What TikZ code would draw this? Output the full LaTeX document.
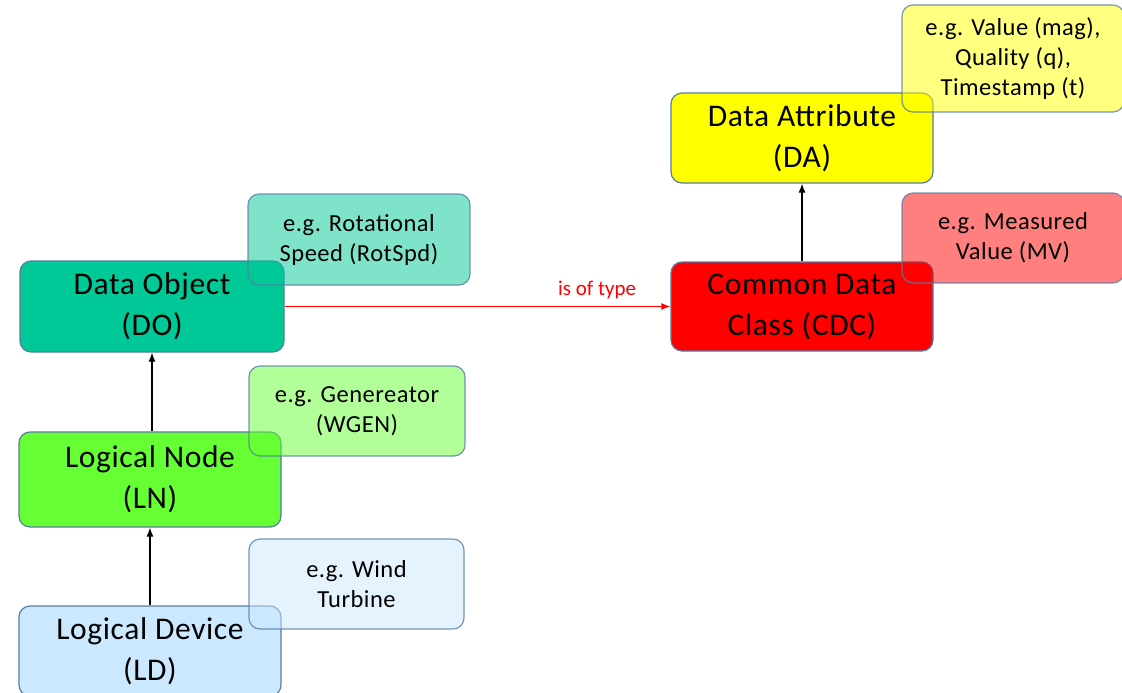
\documentclass[tikz,border=0pt]{standalone}
\usepackage{fontspec}
\setmainfont{Carlito}
\newfontfamily\widefont[LetterSpace=2]{Carlito}
\usetikzlibrary{arrows.meta}
\definecolor{cDO}{RGB}{0,200,150}
\definecolor{cLN}{RGB}{102,255,51}
\definecolor{cLD}{RGB}{204,232,255}
\definecolor{cDA}{RGB}{255,255,0}
\definecolor{cCDC}{RGB}{255,0,0}
\definecolor{bord}{RGB}{85,125,165}
\tikzset{
  mainbox/.style={draw=bord, line width=1.2pt, rounded corners=11pt, align=center, inner sep=0pt,
    font=\widefont\fontsize{31.5}{41}\selectfont},
  notebox/.style={draw=bord, draw opacity=0.8, line width=1.2pt, rounded corners=11pt, align=center, inner sep=0pt,
    fill opacity=0.5, text opacity=1, font=\widefont\fontsize{24.5}{30}\selectfont},
  conn/.style={-{Latex[length=9pt,width=7pt]}, line width=1.3pt},
}
\begin{document}
\begin{tikzpicture}[x=1pt,y=1pt]
\useasboundingbox (0,0) rectangle (1122,-693);
% main boxes
\node[mainbox, fill=cDO, minimum width=264pt, minimum height=91pt] (DO) at (152,-306.5) {Data Object\\(DO)};
\node[mainbox, fill=cLN, minimum width=262pt, minimum height=95pt] (LN) at (150,-479.5) {Logical Node\\(LN)};
\node[mainbox, fill=cLD, minimum width=262pt, minimum height=90pt] (LD) at (150,-651) {Logical Device\\(LD)};
\node[mainbox, fill=cDA, minimum width=262pt, minimum height=90pt] (DA) at (802,-138) {Data Attribute\\(DA)};
\node[mainbox, fill=cCDC, minimum width=262pt, minimum height=89pt] (CDC) at (802,-306.5) {Common Data\\Class (CDC)};
% note boxes
\node[notebox, fill=cDO, minimum width=222pt, minimum height=91pt] (nDO) at (359,-239.5) {e.g. Rotational\\Speed (RotSpd)};
\node[notebox, fill=cLN, minimum width=216pt, minimum height=90pt] (nLN) at (357,-411) {e.g. Genereator\\(WGEN)};
\node[notebox, fill=cLD, minimum width=215pt, minimum height=90pt] (nLD) at (356.5,-584) {e.g. Wind\\Turbine};
\node[notebox, fill=cDA, minimum width=222pt, minimum height=107pt] (nDA) at (1013,-58.5) {e.g. Value (mag),\\Quality (q),\\Timestamp (t)};
\node[notebox, fill=cCDC, minimum width=222pt, minimum height=90pt] (nCDC) at (1013,-238) {e.g. Measured\\Value (MV)};
% connectors
\draw[conn] (DO.south |- LN.north) -- (DO.south);
\draw[conn] (LD.north) -- (LN.south);
\draw[conn] (CDC.north) -- (DA.south);
\draw[conn, draw=red, fill=red] (DO.east) -- node[above, pos=0.81, yshift=4pt, text=red, font=\fontsize{21}{24}\selectfont] {is of type} (CDC.west);
\end{tikzpicture}
\end{document}
